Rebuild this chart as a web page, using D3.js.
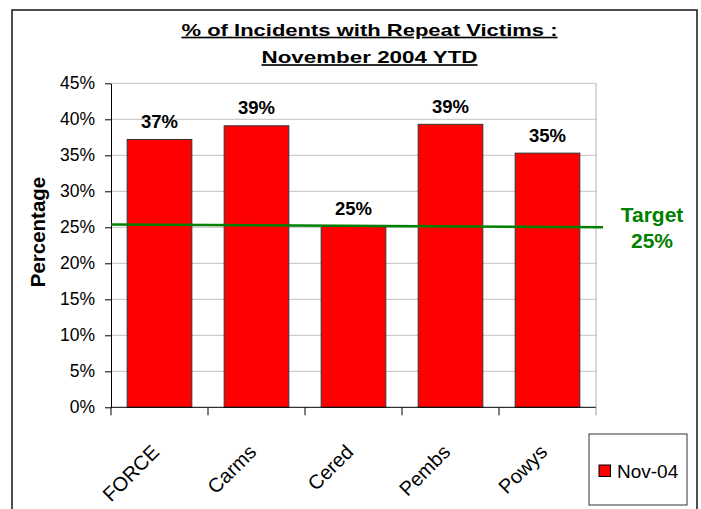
<!DOCTYPE html>
<html><head><meta charset="utf-8">
<script src="https://cdn.jsdelivr.net/npm/d3@7"></script>
<style>body{margin:0;background:#fff;}svg{display:block;font-family:Arial,"Liberation Sans",sans-serif;}</style>
</head><body>
<script>
const categories = ["FORCE", "Carms", "Cered", "Pembs", "Powys"];
const seriesName = "Nov-04";
const values = [37.2, 39.1, 25.1, 39.3, 35.3];
const valueLabels = ["37%", "39%", "25%", "39%", "35%"];
const targetValues = [25.4, 25.0];
const targetLabel = ["Target", "25%"];
const yTicks = [0, 5, 10, 15, 20, 25, 30, 35, 40, 45];
const titleLines = ["% of Incidents with Repeat Victims :", "November 2004 YTD"];

const W = 701, H = 509;
const svg = d3.select("body").append("svg").attr("width", W).attr("height", H);

// outer chart border
svg.append("rect").attr("x", 12).attr("y", 10).attr("width", 685).attr("height", 520)
  .attr("fill", "#fff").attr("stroke", "#222").attr("stroke-width", 1.6);

const m = {left: 111, right: 596, top: 83.3, bottom: 407.3};
const x = d3.scaleBand().domain(categories).range([m.left, m.right]).paddingInner(1/3).paddingOuter(1/6);
const y = d3.scaleLinear().domain([0, 45]).range([m.bottom, m.top]);

// gridlines
svg.append("g").selectAll("line").data(yTicks.filter(d => d > 0)).join("line")
  .attr("x1", m.left).attr("x2", m.right).attr("y1", d => y(d)).attr("y2", d => y(d))
  .attr("stroke", "#c0c0c0").attr("stroke-width", 1);
// plot right border
svg.append("line").attr("x1", m.right).attr("x2", m.right).attr("y1", m.top).attr("y2", m.bottom)
  .attr("stroke", "#b0b0b0").attr("stroke-width", 1);

// bars
svg.append("g").selectAll("rect").data(values).join("rect")
  .attr("x", (d, i) => x(categories[i])).attr("width", x.bandwidth())
  .attr("y", d => y(d)).attr("height", d => y(0) - y(d))
  .attr("fill", "#ff0000").attr("stroke", "#333").attr("stroke-width", 1);

// value labels
svg.append("g").selectAll("text").data(values).join("text")
  .attr("x", (d, i) => x(categories[i]) + x.bandwidth() / 2).attr("y", d => y(d) - 11.5)
  .attr("text-anchor", "middle").attr("font-size", 18.5).attr("font-weight", "bold").attr("fill", "#000")
  .text((d, i) => valueLabels[i]);

// y axis
const yAxis = svg.append("g").attr("transform", `translate(${m.left},0)`)
  .call(d3.axisLeft(y).tickValues(yTicks).tickFormat(d => d + "%").tickSize(6).tickSizeOuter(0));
yAxis.select(".domain").attr("stroke", "#000");
yAxis.selectAll(".tick line").attr("stroke", "#000");
yAxis.selectAll("text").attr("font-size", 17.5).attr("font-family", "Arial,'Liberation Sans',sans-serif").attr("fill", "#000").attr("dx", -7);

// x axis
const xb = d3.scaleLinear().domain([0, categories.length]).range([m.left, m.right]);
svg.append("line").attr("x1", m.left).attr("x2", m.right).attr("y1", m.bottom).attr("y2", m.bottom).attr("stroke", "#000");
svg.append("g").selectAll("line").data(d3.range(categories.length + 1)).join("line")
  .attr("x1", d => xb(d)).attr("x2", d => xb(d)).attr("y1", m.bottom).attr("y2", m.bottom + 8)
  .attr("stroke", d => d === categories.length ? "#999" : "#000");
svg.append("g").selectAll("text").data(categories).join("text")
  .attr("transform", d => `translate(${x(d) + x.bandwidth() / 2 + 1},${m.bottom + 46}) rotate(-45)`)
  .attr("text-anchor", "end").attr("font-size", 20).attr("fill", "#000").text(d => d);

// target line
const tx = d3.scaleLinear().domain([0, 1]).range([m.left, 603]);
svg.append("line")
  .attr("x1", tx(0)).attr("x2", tx(1)).attr("y1", y(targetValues[0])).attr("y2", y(targetValues[1]))
  .attr("stroke", "#008000").attr("stroke-width", 2.5);
svg.append("g").selectAll("text").data(targetLabel).join("text")
  .attr("x", 652).attr("y", (d, i) => 221.5 + i * 26)
  .attr("text-anchor", "middle").attr("font-size", 21).attr("font-weight", "bold").attr("fill", "#008000")
  .text(d => d);

// y axis title
svg.append("text").attr("transform", "translate(45,232) rotate(-90)")
  .attr("text-anchor", "middle").attr("font-size", 20.5).attr("font-weight", "bold").text("Percentage");

// title
const titleWidths = [376, 216];
svg.append("g").selectAll("text").data(titleLines).join("text")
  .attr("x", (d, i) => 369.5 - titleWidths[i] / 2).attr("y", (d, i) => 35.7 + i * 27.5)
  .attr("textLength", (d, i) => titleWidths[i]).attr("lengthAdjust", "spacingAndGlyphs")
  .attr("font-size", 16.5).attr("font-weight", "bold")
  .attr("text-decoration", "underline").text(d => d);

// legend
svg.append("rect").attr("x", 589).attr("y", 434).attr("width", 98).attr("height", 71)
  .attr("fill", "#fff").attr("stroke", "#333").attr("stroke-width", 1);
svg.append("rect").attr("x", 599).attr("y", 465).attr("width", 11.5).attr("height", 11.5)
  .attr("fill", "#ff0000").attr("stroke", "#000");
svg.append("text").attr("x", 617).attr("y", 478).attr("font-size", 19).text(seriesName);
</script>
</body></html>
